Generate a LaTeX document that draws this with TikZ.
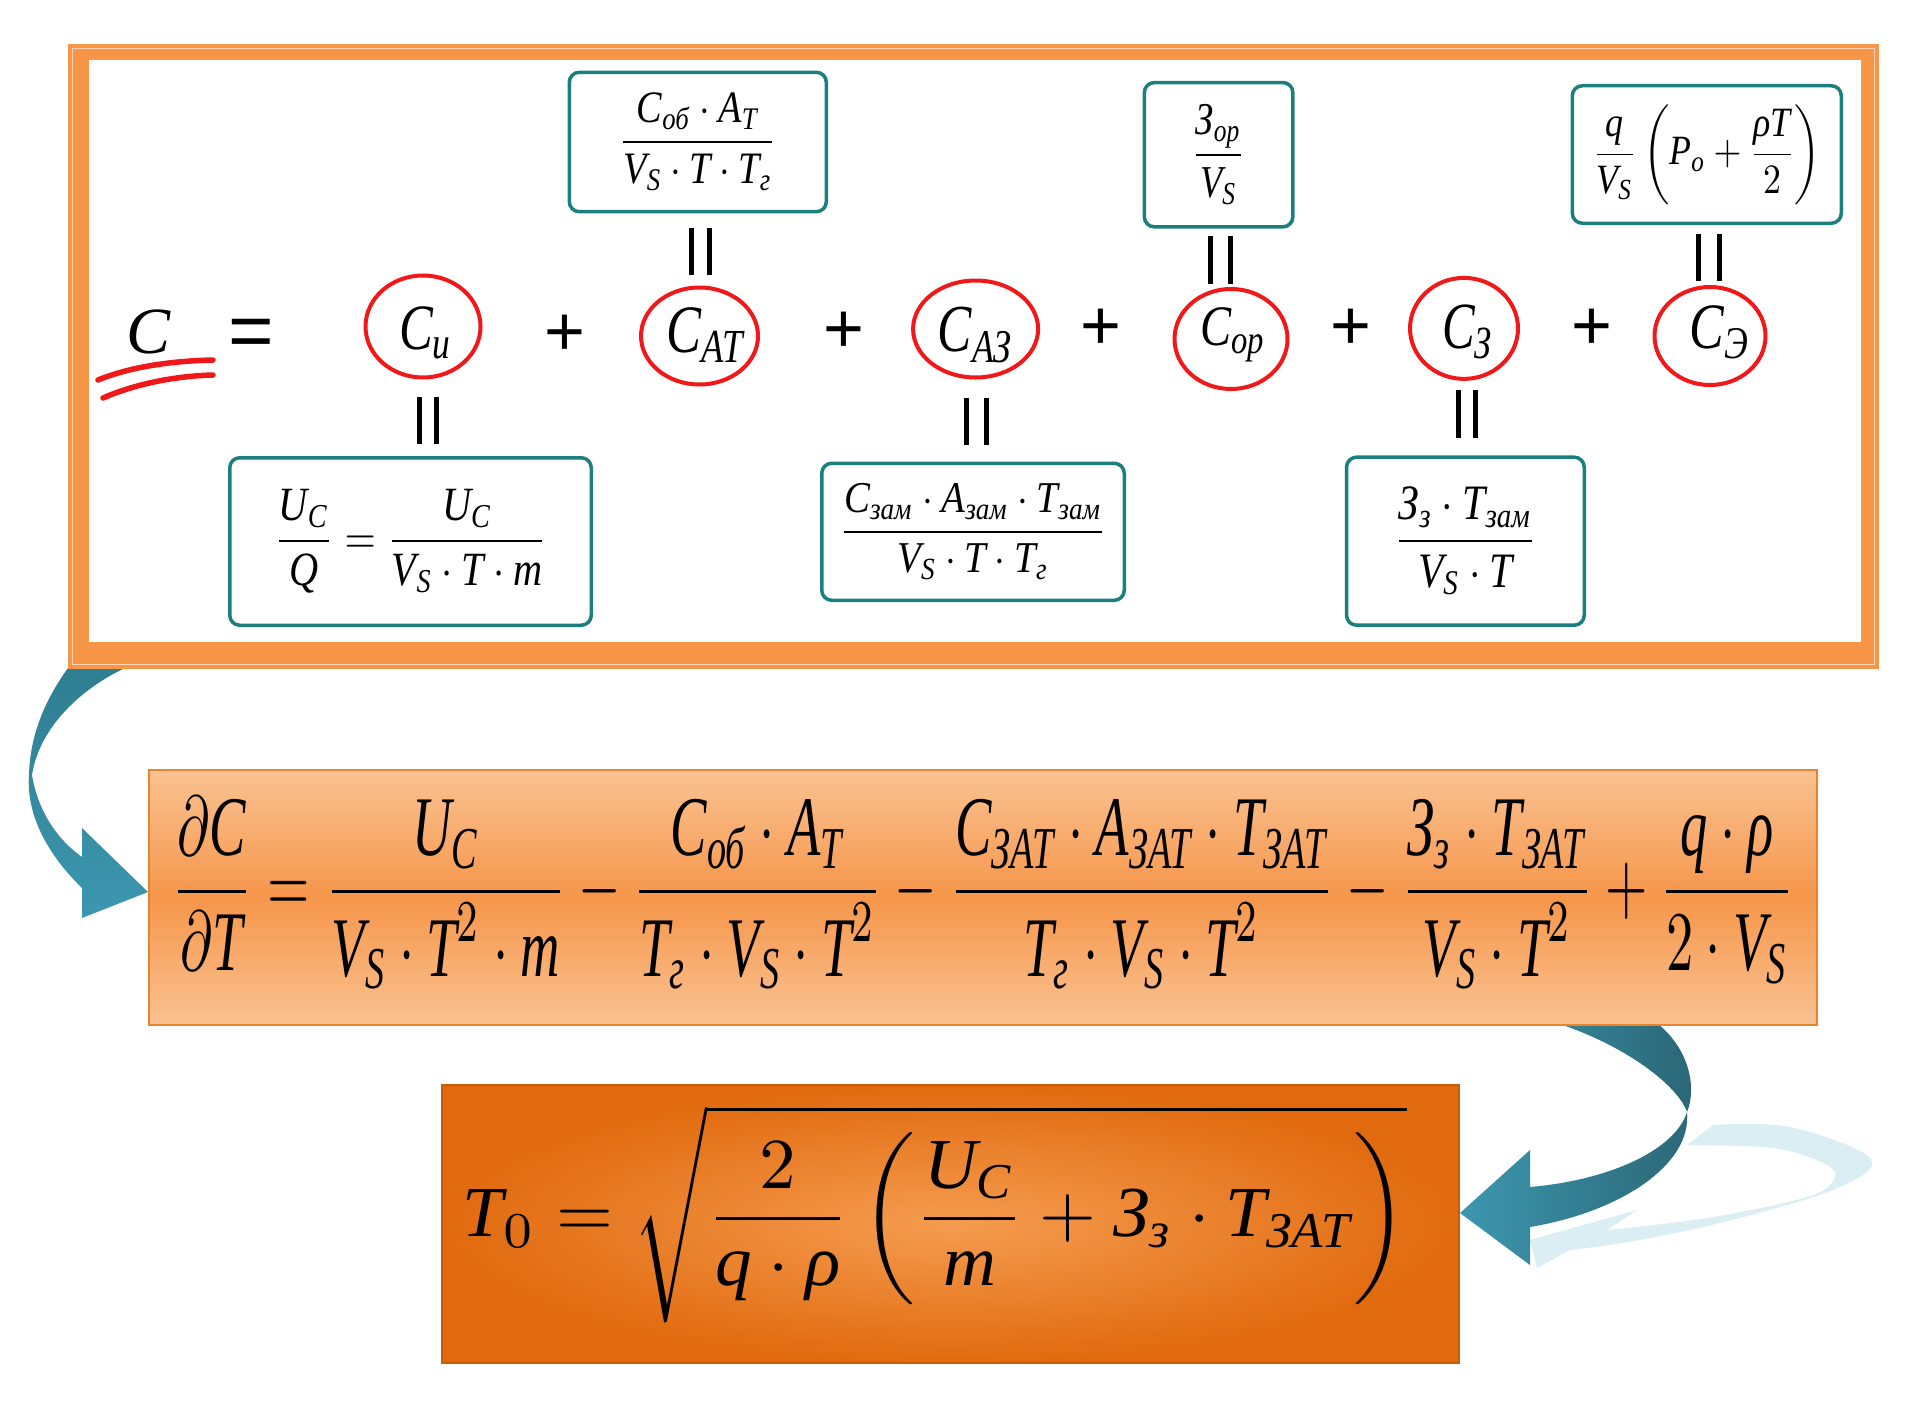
\documentclass[tikz,border=0pt]{standalone}
\usepackage{amsmath}
\usepackage{graphicx}
\usepackage{fontspec}
\setmainfont{Liberation Serif}
\newfontfamily\sansf{Liberation Sans}
\usetikzlibrary{shapes.geometric}
\newcommand\I[1]{\textit{#1}}
\definecolor{frameor}{HTML}{F79646}
\definecolor{framelt}{HTML}{FBD3B3}
\definecolor{boxteal}{HTML}{1B7F7D}
\definecolor{cred}{HTML}{F01818}
\definecolor{peach}{HTML}{FAC292}
\definecolor{midor}{HTML}{F6964A}
\definecolor{midedge}{HTML}{E8832E}
\definecolor{deepor}{HTML}{E16A0E}
\definecolor{lightor}{HTML}{F59C50}
\definecolor{deepedge}{HTML}{C45C0C}
\definecolor{tealA}{HTML}{2E7D91}
\definecolor{tealB}{HTML}{3C97AF}
\definecolor{tealC}{HTML}{2A6676}
\definecolor{echo}{HTML}{DAEEF3}
\tikzset{
  rc/.style={ellipse, draw=cred, line width=4pt, inner sep=0pt, outer sep=0pt},
  tb/.style={rectangle, rounded corners=10pt, draw=boxteal, line width=3.5pt, fill=white, inner sep=0pt, outer sep=0pt},
  eqbar/.style={draw=black, line width=5pt},
  txt/.style={inner sep=0pt, outer sep=0pt},
  plussign/.style={inner sep=0pt, outer sep=0pt, anchor=base, font=\sansf\fontsize{70}{72}\selectfont},
  redmark/.style={draw=cred, line width=5.5pt, line cap=round},
}
\begin{document}
\begin{tikzpicture}[x=1pt,y=-1pt]
\useasboundingbox (0,0) rectangle (1924,1410);
% light echo ribbon
\fill[echo] (1530,1240) -- (1637,1210) -- (1607,1230) -- plot[smooth,tension=0.6] coordinates {(1607,1230) (1707,1218) (1807,1197) (1835,1178) (1823,1163) (1773,1148) (1687,1145)} -- (1713,1125) -- plot[smooth,tension=0.6] coordinates {(1713,1125) (1790,1127) (1870,1158) (1840,1187) (1740,1218) (1640,1240) (1570,1250)} -- (1537,1268) -- cycle;
% ribbon arrow 1
\shade[top color=tealA, bottom color=tealB] (68,660) -- (145,660) .. controls (92,678) and (40,722) .. (32,775) .. controls (38,812) and (58,840) .. (82,857) -- (82,828) -- (148,892) -- (82,918) -- (82,888) .. controls (48,855) and (26,815) .. (29,775) .. controls (30,735) and (45,700) .. (68,668) -- cycle;
% ribbon arrow 2
\shade[left color=tealB, right color=tealC] (1540,1018) -- (1650,1018) .. controls (1690,1045) and (1697,1088) .. (1687,1112) .. controls (1692,1165) and (1620,1212) .. (1530,1227) -- (1530,1265) -- (1460,1213) -- (1530,1150) -- (1530,1187) .. controls (1610,1180) and (1675,1150) .. (1687,1112) .. controls (1678,1085) and (1620,1040) .. (1540,1018) -- cycle;
% frame
\fill[frameor] (68,44) rectangle (1879,669);
\draw[framelt, line width=1.5pt] (72.5,48.5) rectangle (1874.5,664.5);
\fill[white] (89,60) rectangle (1861,642);
% left side
\node[txt, font=\fontsize{66}{70}\selectfont] (cc) at (149,332) {\I{C}};
\draw[redmark] (98,380) .. controls (130,367) and (170,361) .. (213,360);
\draw[redmark] (103,398) .. controls (135,384) and (175,376) .. (213,375);
\node[txt, anchor=base, font=\sansf\fontsize{78}{80}\selectfont] (eq) at (251,357.5) {=};
% circles
\node[rc, minimum width=115, minimum height=102] (ci) at (423,326.5) {};
\node[txt] (ti) at (426,333) {\resizebox*{54pt}{53pt}{$\I{C}_{\I{и}}$}};
\node[plussign] (p1) at (565,355) {+};
\node[rc, minimum width=117, minimum height=97] (cat) at (699.5,336) {};
\node[txt] (tat) at (706,335) {\resizebox*{79pt}{55pt}{$\I{C}_{\I{АТ}}$}};
\node[plussign] (p2) at (844,352) {+};
\node[rc, minimum width=125, minimum height=97] (ca3) at (975.6,329) {};
\node[txt] (ta3) at (976,335) {\resizebox*{76pt}{55pt}{$\I{C}_{\I{АЗ}}$}};
\node[plussign] (p3) at (1101,349) {+};
\node[rc, minimum width=113, minimum height=100] (cop) at (1231,339) {};
\node[txt] (top) at (1233,335) {\resizebox*{66pt}{55pt}{$\I{C}_{\I{ор}}$}};
\node[plussign] (p4) at (1350.5,349.5) {+};
\node[rc, minimum width=108, minimum height=101] (cz) at (1464,328.4) {};
\node[txt] (tz) at (1468,332) {\resizebox*{52pt}{54pt}{$\I{C}_{\I{З}}$}};
\node[plussign] (p5) at (1592,349) {+};
\node[rc, minimum width=111, minimum height=98] (ce) at (1710,336) {};
\node[txt] (te) at (1720,332) {\resizebox*{61pt}{53pt}{$\I{C}_{\I{Э}}$}};
% boxes
\node[tb, minimum width=361.5, minimum height=167.5] (bi) at (410.5,541.5)
  {\resizebox*{273pt}{104pt}{$\dfrac{\I{U}_{\I{C}}}{\I{Q}}=\dfrac{\I{U}_{\I{C}}}{\I{V}_{\I{S}}\cdot\I{T}\cdot\I{m}}$}};
\node[tb, minimum width=257, minimum height=139.4] (bat) at (697.8,142)
  {\resizebox*{158pt}{98pt}{$\dfrac{\I{C}_{\I{об}}\cdot\I{A}_{\I{Т}}}{\I{V}_{\I{S}}\cdot\I{T}\cdot\I{T}_{\I{г}}}$}};
\node[tb, minimum width=302.5, minimum height=137] (ba3) at (973,531.8)
  {\resizebox*{267pt}{96pt}{$\dfrac{\I{C}_{\I{зам}}\cdot\I{A}_{\I{зам}}\cdot\I{T}_{\I{зам}}}{\I{V}_{\I{S}}\cdot\I{T}\cdot\I{T}_{\I{г}}}$}};
\node[tb, minimum width=148.5, minimum height=144.3] (bop) at (1218.6,154.7)
  {\resizebox*{54pt}{100pt}{$\dfrac{\I{З}_{\I{ор}}}{\I{V}_{\I{S}}}$}};
\node[tb, minimum width=237.7, minimum height=168] (bz) at (1465.4,541.2)
  {\resizebox*{143pt}{108pt}{$\dfrac{\I{З}_{\I{з}}\cdot\I{T}_{\I{зам}}}{\I{V}_{\I{S}}\cdot\I{T}}$}};
\node[tb, minimum width=269, minimum height=137.5] (be) at (1706.8,154.5)
  {\resizebox*{229pt}{100pt}{$\dfrac{\I{q}}{\I{V}_{\I{S}}}\left(\I{P}_{\I{o}}+\dfrac{\I{ρ}\I{T}}{2}\right)$}};
% double bars
\draw[eqbar, shorten <=19.4pt, shorten >=13.75pt] ([xshift=-4pt]ci.south) -- ([xshift=8.5pt]bi.north);
\draw[eqbar, shorten <=19.4pt, shorten >=13.75pt] ([xshift=13.5pt]ci.south) -- ([xshift=26pt]bi.north);
\draw[eqbar, shorten <=13pt, shorten >=16pt] ([xshift=-7.9pt]cat.north) -- ([xshift=-6.2pt]bat.south);
\draw[eqbar, shorten <=13pt, shorten >=16pt] ([xshift=9.5pt]cat.north) -- ([xshift=11.2pt]bat.south);
\draw[eqbar, shorten <=20.4pt, shorten >=18.3pt] ([xshift=-9.6pt]ca3.south) -- ([xshift=-7pt]ba3.north);
\draw[eqbar, shorten <=20.4pt, shorten >=18.3pt] ([xshift=10.4pt]ca3.south) -- ([xshift=13pt]ba3.north);
\draw[eqbar, shorten <=5pt, shorten >=9.2pt] ([xshift=-20.2pt]cop.north) -- ([xshift=-7.8pt]bop.south);
\draw[eqbar, shorten <=5pt, shorten >=9.2pt] ([xshift=-1pt]cop.north) -- ([xshift=11.4pt]bop.south);
\draw[eqbar, shorten <=11.2pt, shorten >=19.3pt] ([xshift=-6pt]cz.south) -- ([xshift=-7.4pt]bz.north);
\draw[eqbar, shorten <=11.2pt, shorten >=19.3pt] ([xshift=11pt]cz.south) -- ([xshift=9.6pt]bz.north);
\draw[eqbar, shorten <=6pt, shorten >=10.75pt] ([xshift=-12pt]ce.north) -- ([xshift=-8.8pt]be.south);
\draw[eqbar, shorten <=6pt, shorten >=10.75pt] ([xshift=9pt]ce.north) -- ([xshift=12.2pt]be.south);
% middle box
\node[draw=midedge, line width=1.5pt, top color=peach, bottom color=peach, middle color=midor,
  minimum width=1668, minimum height=255, inner sep=0pt, outer sep=0pt] (mb) at (983,897.5) {};
\node[txt] (mf) at (983,893) {\resizebox*{1623pt}{193pt}{$\dfrac{\partial\I{C}}{\partial\I{T}}=\dfrac{\I{U}_{\I{C}}}{\I{V}_{\I{S}}\cdot\I{T}^{2}\cdot\I{m}}-\dfrac{\I{C}_{\I{об}}\cdot\I{A}_{\I{Т}}}{\I{T}_{\I{г}}\cdot\I{V}_{\I{S}}\cdot\I{T}^{2}}-\dfrac{\I{C}_{\I{ЗАТ}}\cdot\I{A}_{\I{ЗАТ}}\cdot\I{T}_{\I{ЗАТ}}}{\I{T}_{\I{г}}\cdot\I{V}_{\I{S}}\cdot\I{T}^{2}}-\dfrac{\I{З}_{\I{з}}\cdot\I{T}_{\I{ЗАТ}}}{\I{V}_{\I{S}}\cdot\I{T}^{2}}+\dfrac{\I{q}\cdot\I{ρ}}{2\cdot\I{V}_{\I{S}}}$}};
% bottom box
\node[draw=deepedge, line width=1.5pt, inner color=lightor, outer color=deepor,
  minimum width=1017, minimum height=278, inner sep=0pt, outer sep=0pt] (bb) at (950.5,1224) {};
\node[txt] (bf) at (935,1214) {\resizebox*{944pt}{218pt}{$\I{T}_{0}=\sqrt{\dfrac{2}{\I{q}\cdot\I{ρ}}\left(\dfrac{\I{U}_{\I{C}}}{\I{m}}+\I{З}_{\I{з}}\cdot\I{T}_{\I{ЗАТ}}\right)}$}};
\end{tikzpicture}
\end{document}
